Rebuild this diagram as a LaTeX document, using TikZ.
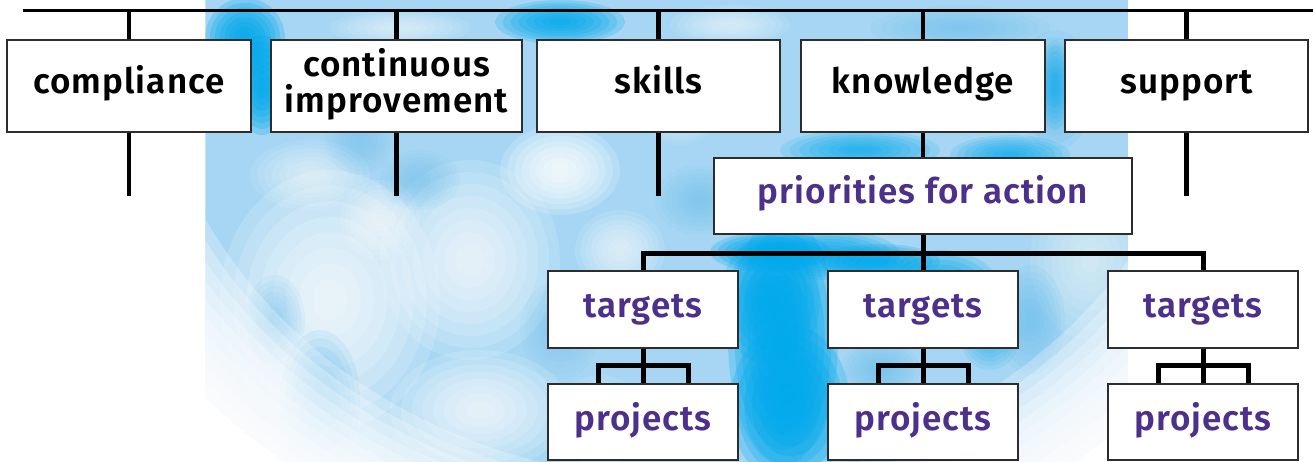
\documentclass[tikz,border=0pt]{standalone}
\usepackage{fontspec}
\setmainfont{Fira Sans}[LetterSpace=3, BoldFont={Fira Sans SemiBold}]
\usetikzlibrary{calc}
\definecolor{purp}{RGB}{76,48,140}
\definecolor{boxline}{RGB}{45,45,45}
\definecolor{skylight}{RGB}{166,214,243}
\definecolor{skydark}{RGB}{0,170,236}
\definecolor{skymid}{RGB}{105,190,238}
\pgfdeclarelayer{bg}
\pgfdeclarelayer{lines}
\pgfsetlayers{bg,lines,main}
\newcommand\softblob[6]{%
  \pgfmathsetmacro\blobA{1-(1-#6)^(1/8)}%
  \foreach \s in {1,0.88,0.76,0.64,0.52,0.40,0.28,0.16}
    \fill[#1, opacity=\blobA] (#2,#3) ellipse ({#4*\s} and {#5*\s});%
}
\tikzset{
  box/.style={draw=boxline, line width=1.3pt, fill=white, inner sep=0pt,
    font=\fontsize{35}{36}\selectfont\bfseries, text height=24pt, text depth=8pt},
  topbox/.style={box, minimum width=244pt, minimum height=92pt, text=black},
  subbox/.style={box, minimum width=190pt, minimum height=77pt, text=purp},
  plain/.style={font=\fontsize{35}{36}\selectfont\bfseries, inner sep=0pt, text=black},
  topline/.style={line width=3pt},
  stub/.style={line width=4.2pt},
  tree/.style={line width=5pt, line join=miter}
}
\begin{document}
\begin{tikzpicture}[x=1pt, y=-1pt]
\useasboundingbox (0,0) rectangle (1313,462);

% background globe
\begin{pgfonlayer}{bg}
\begin{scope}
  \clip (205,0) rectangle (1128,462);
  \fill[skylight] (205,0) rectangle (1128,462);
  % white clouds
  \foreach \x/\y/\rx/\ry/\o in {330/300/110/130/0.75, 470/260/90/100/0.7, 560/170/60/45/0.8,
      310/175/60/35/0.55, 480/410/90/60/0.7, 620/250/45/40/0.6, 730/25/60/20/0.55,
      400/28/70/18/0.55, 600/420/45/45/0.5, 1090/260/60/80/0.5, 680/120/35/25/0.4,
      380/220/40/40/0.6}
    {\softblob{white}{\x}{\y}{\rx}{\ry}{\o}}
  % medium blue
  \foreach \x/\y/\rx/\ry/\o in {320/400/40/70/0.7, 275/320/30/45/0.5, 700/200/45/35/0.5,
      960/28/90/22/0.55, 1055/90/40/60/0.75, 420/180/40/30/0.45, 1030/320/35/55/0.6,
      360/140/35/35/0.45, 560/330/40/50/0.4, 880/370/40/30/0.6}
    {\softblob{skymid}{\x}{\y}{\rx}{\ry}{\o}}
  % dark cyan
  \foreach \x/\y/\rx/\ry/\o in {245/38/40/40/0.9, 262/85/28/50/0.9, 560/22/65/22/0.85,
      770/300/50/65/0.85, 790/405/60/80/0.9, 783/340/55/125/0.9, 770/252/60/20/0.9,
      880/262/60/18/0.85, 830/255/70/25/0.8, 940/290/60/40/0.8,
      990/335/30/35/0.55, 860/150/80/20/0.7, 1010/155/60/20/0.7, 870/440/40/35/0.6,
      1055/85/15/45/0.6}
    {\softblob{skydark}{\x}{\y}{\rx}{\ry}{\o}}
  % soft edge of the globe
  \foreach \k in {92,94,...,110}
    \fill[white, opacity=0.26, even odd rule] (205,0) rectangle (1128,462)
      (680,0) ellipse ({5.8*\k} and {5.2*\k});
  \fill[white, even odd rule] (205,0) rectangle (1128,462)
      (680,0) ellipse ({5.8*112} and {5.2*112});
\end{scope}
\end{pgfonlayer}

% boxes
\node[topbox] (compl) at (129,86) {compliance};
\node[topbox, minimum width=251pt] (ci) at (396.5,86) {};
\node[plain, anchor=base] (ci1) at (396.5,77) {continuous};
\node[plain, anchor=base] (ci2) at (396.5,113) {improvement};
\node[topbox, minimum width=243pt] (skills) at (658.5,86) {skills};
\node[topbox] (know) at (923,86) {knowledge};
\node[topbox, minimum width=243pt] (support) at (1186.5,86) {support};
\node[subbox, minimum width=418pt, minimum height=76pt] (prio) at (923,196) {priorities for action};
\node[subbox] (t1) at (643,309.5) {targets};
\node[subbox] (t2) at (923,309.5) {targets};
\node[subbox] (t3) at (1203,309.5) {targets};
\node[subbox, minimum height=76pt] (p1) at (643,422) {projects};
\node[subbox, minimum height=76pt] (p2) at (923,422) {projects};
\node[subbox, minimum height=76pt] (p3) at (1203,422) {projects};

\coordinate (topL) at (23,11);
\coordinate (topR) at (1313,11);
\coordinate (stubEnd) at (0,196);
\coordinate (bar) at (0,253);
\coordinate (brk) at (0,365);

\begin{pgfonlayer}{lines}
\draw[topline] (topL) -- (topR);
\foreach \n in {compl, ci, skills, know, support}
  \draw[stub] (\n.north) -- (\n.north |- topL);
\foreach \n in {compl, ci, skills, support}
  \draw[stub] (\n.south) -- (\n.south |- stubEnd);
\draw[stub] (know.south) -- (prio.north);
\draw[tree] (prio.south) -- (t2.north);
\draw[tree] (t1.north) -- (t1.north |- bar) -- (t3.north |- bar) -- (t3.north);
\foreach \t/\p in {t1/p1, t2/p2, t3/p3} {
  \draw[tree] (\t.south) -- (\p.north);
  \draw[tree] ([xshift=-45pt]\p.north) -- ([xshift=-45pt]\p.north |- brk)
     -- ([xshift=45pt]\p.north |- brk) -- ([xshift=45pt]\p.north);
}
\end{pgfonlayer}
\end{tikzpicture}
\end{document}
